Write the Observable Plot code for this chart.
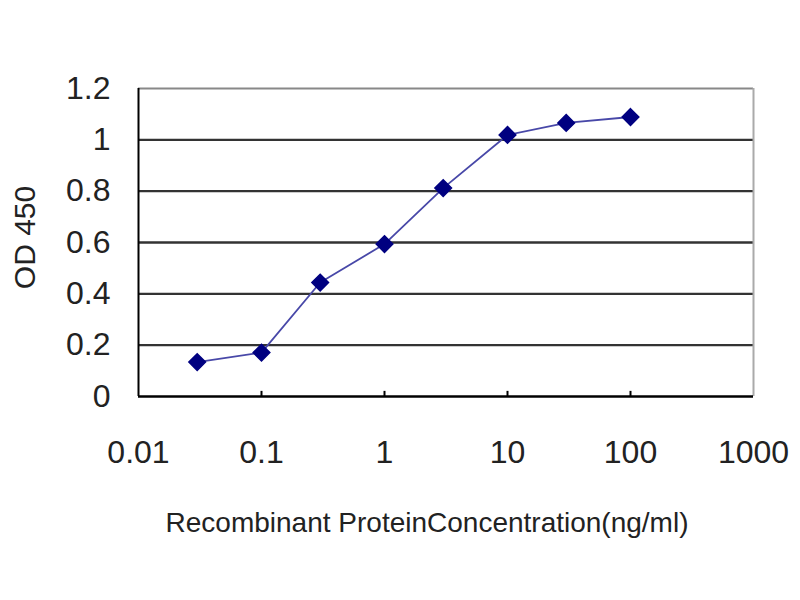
<!DOCTYPE html>
<html>
<head>
<meta charset="utf-8">
<script src="https://cdn.jsdelivr.net/npm/d3@7"></script>
<script src="https://cdn.jsdelivr.net/npm/@observablehq/plot@0.6"></script>
<style>
  html, body { margin: 0; padding: 0; background: #fff; }
  #chart svg { display: block; }
</style>
</head>
<body>
<div id="chart"></div>
<script>
// Data
const concentration = [0.03, 0.1, 0.3, 1, 3, 10, 30, 100];
const od450 = [0.134, 0.171, 0.444, 0.594, 0.812, 1.019, 1.066, 1.089];
const xTicks = [0.01, 0.1, 1, 10, 100, 1000];
const xTickLabels = ["0.01", "0.1", "1", "10", "100", "1000"];
const yTicks = [0, 0.2, 0.4, 0.6, 0.8, 1, 1.2];
const yTickLabels = ["0", "0.2", "0.4", "0.6", "0.8", "1", "1.2"];
const innerGrid = [0.2, 0.4, 0.6, 0.8, 1];
const xTitle = "Recombinant ProteinConcentration(ng/ml)";
const yTitle = "OD 450";

const data = concentration.map((c, i) => ({c, v: od450[i]}));
const font = "'Liberation Sans', Arial, Helvetica, sans-serif";

const chart = Plot.plot({
  width: 800,
  height: 600,
  marginLeft: 138,
  marginRight: 47,
  marginTop: 88,
  marginBottom: 204,
  style: {fontFamily: font, background: "#fff", color: "#000"},
  x: {type: "log", domain: [0.01, 1000], axis: null},
  y: {domain: [0, 1.2], axis: null},
  marks: [
    Plot.ruleY(innerGrid, {stroke: "#333", strokeWidth: 2.4}),
    Plot.ruleY([1.2], {stroke: "#888", strokeWidth: 2}),
    Plot.ruleX([1000], {stroke: "#aaa", strokeWidth: 2}),
    Plot.ruleX(xTicks.slice(1, -1), {y1: 0, y2: 0.02, stroke: "#000", strokeWidth: 2}),
    Plot.ruleX([0.01], {stroke: "#000", strokeWidth: 2}),
    Plot.ruleY([0], {stroke: "#000", strokeWidth: 2.4}),
    Plot.text(xTicks, {x: d => d, text: (d, i) => xTickLabels[i], frameAnchor: "bottom", lineAnchor: "middle", textAnchor: "middle", dy: 56, fontSize: 32, fill: "#222"}),
    Plot.text(yTicks, {y: d => d, text: (d, i) => yTickLabels[i], frameAnchor: "left", lineAnchor: "middle", textAnchor: "end", dx: -28, fontSize: 32, fill: "#222"}),
    Plot.line(data, {x: "c", y: "v", stroke: "#4848a8", strokeWidth: 1.8}),
    Plot.dot(data, {x: "c", y: "v", symbol: "diamond2", r: 7.5, fill: "#000080", stroke: "#000080"}),
    Plot.text([yTitle], {frameAnchor: "left", textAnchor: "middle", lineAnchor: "middle", dx: -113, dy: -5, rotate: -90, fontSize: 30, letterSpacing: 3, fill: "#222"}),
    Plot.text([xTitle], {frameAnchor: "bottom", textAnchor: "middle", lineAnchor: "middle", dx: -19, dy: 127, fontSize: 28, fill: "#222"})
  ]
});
document.getElementById("chart").append(chart);
</script>
</body>
</html>
